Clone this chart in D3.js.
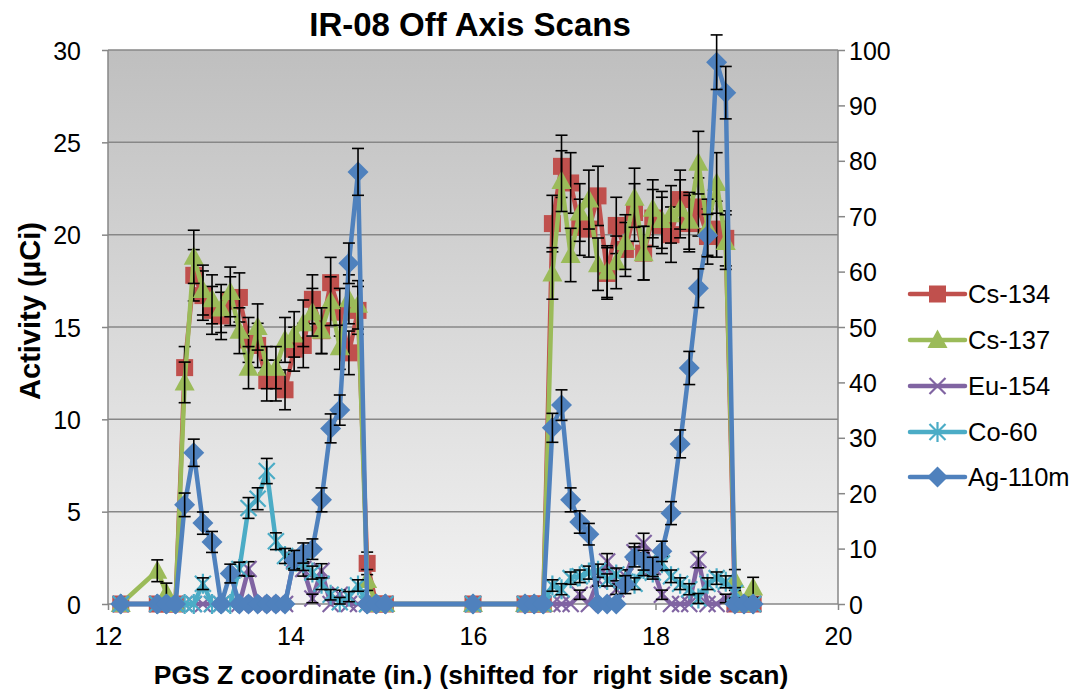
<!DOCTYPE html>
<html lang="en">
<head>
<meta charset="UTF-8">
<title>IR-08 Off Axis Scans</title>
<script src="https://d3js.org/d3.v7.min.js"></script>
<style>
  body { margin: 0; background: #fff; font-family: "Liberation Sans", Arial, sans-serif; }
  .tick text { font-size: 25px; fill: #000; font-family: "Liberation Sans", Arial, sans-serif; }
  .tick line { stroke: #878787; stroke-width: 1.5px; }
  .grid { stroke: #878787; stroke-width: 1.5px; }
  .title { font-size: 33px; font-weight: bold; text-anchor: middle; }
  .axis-title { font-size: 26.5px; font-weight: bold; text-anchor: middle; }
  .legend text { font-size: 25.5px; }
  .err { stroke: #000; stroke-width: 1.6px; }
</style>
</head>
<body>
<script>
// x positions of scan points (in.)
const positions = [12.14,
  12.54, 12.64, 12.74, 12.84, 12.94, 13.04, 13.14, 13.24, 13.34, 13.44,
  13.54, 13.64, 13.74, 13.84, 13.94, 14.04, 14.14, 14.24, 14.34, 14.44,
  14.54, 14.64, 14.74, 14.84, 14.94, 15.04,
  16.0,
  16.57, 16.67, 16.77, 16.87, 16.97, 17.07, 17.17, 17.27, 17.37, 17.47,
  17.57, 17.67, 17.77, 17.87, 17.97, 18.07, 18.17, 18.27, 18.37, 18.47,
  18.57, 18.67, 18.77, 18.87, 18.97, 19.07];

// left axis (µCi)
const cs134 = [0,
  0, 0, 0, 12.8, 17.8, 16.7, 15.9, 15.6, 16.4, 16.6,
  14.3, 14.0, 12.1, 12.1, 11.6, 13.8, 14.0, 16.5, 14.8, 17.4,
  15.8, 13.6, 15.9, 2.2, 0, 0,
  0,
  0, 0, 0, 20.6, 23.7, 22.8, 20.4, 20.3, 22.1, 17.9,
  20.5, 19.2, 21.2, 19.0, 20.9, 20.5, 20.0, 21.9, 20.6, 21.5,
  19.9, 20.3, 19.8, 0, 0, 0];
const cs137 = [0,
  1.8, 0.6, 0, 12.0, 18.8, 17.0, 16.5, 16.0, 16.9, 14.8,
  12.8, 15.0, 12.8, 12.8, 14.3, 14.6, 15.2, 15.8, 14.8, 16.4,
  13.9, 16.5, 16.2, 1.3, 0, 0,
  0,
  0, 0, 0, 17.9, 22.9, 18.9, 21.2, 21.9, 18.4, 18.0,
  18.5, 19.6, 22.0, 19.0, 21.4, 20.8, 21.1, 21.4, 20.75, 23.9,
  20.4, 22.8, 19.6, 1.3, 0, 0.9];
const eu154 = [0,
  0, 0, 0, 0, 0, 0, 0, 0, 0, 0,
  1.9, 0, 0, 0, 0, 2.4, 1.9, 0.3, 1.8, 0,
  0.5, 0, 0, 0, 0, 0,
  0,
  0, 0, 0, 0, 0, 0, 0.5, 0, 1.3, 2.3,
  0.8, 1.5, 2.8, 3.3, 2.0, 0.5, 0, 0, 0, 2.4,
  0, 0, 0.3, 0, 0, 0];
const co60 = [0,
  0, 0, 0, 0, 0, 1.1, 0, 0, 0, 1.9,
  5.2, 5.7, 7.2, 3.4, 2.6, 2.3, 2.2, 1.7, 1.1, 0.5,
  0.1, 0.4, 1.0, 0, 0, 0,
  0,
  0, 0, 0, 1.0, 0.8, 1.4, 1.5, 1.7, 1.8, 1.3,
  1.6, 1.2, 1.1, 1.9, 1.7, 2.2, 1.5, 1.1, 0.8, 0.3,
  1.1, 1.4, 1.2, 0.6, 0, 0];
// right axis
const ag110m = [0,
  0, 0, 0, 17.9, 27.3, 14.6, 11.2, 0, 5.5, 0,
  0, 0, 0, 0, 0, 7.9, 9.2, 9.9, 18.8, 31.7,
  35.0, 61.5, 78.0, 0, 0, 0,
  0,
  0, 0, 0, 31.8, 35.9, 18.8, 14.8, 12.6, 0, 0,
  0, 3.5, 8.5, 7.9, 6.7, 9.5, 16.4, 28.9, 42.6, 57.0,
  66.5, 97.8, 92.3, 0, 0, 0];

// uncertainty used for the error bars: relative part + fixed part
const errFrac = { "Cs-134": 0.05, "Cs-137": 0.05, "Eu-154": 0.1, "Co-60": 0.06, "Ag-110m": 0.035 };
const errBase = { "Cs-134": 0.5, "Cs-137": 0.5, "Eu-154": 0.2, "Co-60": 0.25, "Ag-110m": 1.5 };

const xTicks = [12, 14, 16, 18, 20];
const leftTicks = [0, 5, 10, 15, 20, 25, 30];
const rightTicks = [0, 10, 20, 30, 40, 50, 60, 70, 80, 90, 100];

const width = 1081, height = 689;
const plotL = 108, plotR = 838, plotT = 50, plotB = 604;

const svg = d3.select("body").append("svg")
  .attr("width", width)
  .attr("height", height);

const x = d3.scaleLinear().domain([12, 20]).range([plotL, plotR]);
const yL = d3.scaleLinear().domain([0, 30]).range([plotB, plotT]);
const yR = d3.scaleLinear().domain([0, 100]).range([plotB, plotT]);

// plot background gradient
const defs = svg.append("defs");
const grad = defs.append("linearGradient")
  .attr("id", "bg").attr("x1", 0).attr("y1", 0).attr("x2", 0).attr("y2", 1);
grad.append("stop").attr("offset", "0%").attr("stop-color", "#bfbfbf");
grad.append("stop").attr("offset", "100%").attr("stop-color", "#f2f2f2");

svg.append("rect")
  .attr("x", plotL).attr("y", plotT)
  .attr("width", plotR - plotL).attr("height", plotB - plotT)
  .attr("fill", "url(#bg)");

// gridlines
svg.selectAll(".grid")
  .data(leftTicks)
  .enter().append("line")
  .attr("class", "grid")
  .attr("x1", plotL).attr("x2", plotR)
  .attr("y1", d => yL(d)).attr("y2", d => yL(d));

// plot borders (left and right axis lines)
svg.append("line").attr("class", "grid").attr("x1", plotL).attr("x2", plotL).attr("y1", plotT).attr("y2", plotB);
svg.append("line").attr("class", "grid").attr("x1", plotR).attr("x2", plotR).attr("y1", plotT).attr("y2", plotB);

// axes
const axL = svg.append("g")
  .attr("transform", `translate(${plotL},0)`)
  .call(d3.axisLeft(yL).tickValues(leftTicks).tickSize(6).tickPadding(21));
const axR = svg.append("g")
  .attr("transform", `translate(${plotR},0)`)
  .call(d3.axisRight(yR).tickValues(rightTicks).tickSize(7).tickPadding(4));
const axX = svg.append("g")
  .attr("transform", `translate(0,${plotB})`)
  .call(d3.axisBottom(x).tickValues(xTicks).tickSize(6).tickPadding(17));
[axL, axR, axX].forEach(g => g.select(".domain").remove());
axL.selectAll("text").attr("dy", "0.36em");
axR.selectAll("text").attr("dy", "0.36em");

// series
const series = [
  { name: "Cs-134", values: cs134, color: "#c0504d", y: yL, marker: "square" },
  { name: "Cs-137", values: cs137, color: "#9bbb59", y: yL, marker: "triangle" },
  { name: "Eu-154", values: eu154, color: "#8064a2", y: yL, marker: "x" },
  { name: "Co-60", values: co60, color: "#4bacc6", y: yL, marker: "star" },
  { name: "Ag-110m", values: ag110m, color: "#4f81bd", y: yR, marker: "diamond" }
];

function drawMarker(sel, type, color) {
  if (type === "square") {
    sel.append("rect").attr("x", -8.5).attr("y", -8.5).attr("width", 17).attr("height", 17)
      .attr("fill", color);
  } else if (type === "triangle") {
    sel.append("path").attr("d", "M0,-10.5L10,8L-10,8Z").attr("fill", color);
  } else if (type === "diamond") {
    sel.append("path").attr("d", "M0,-10.5L10.5,0L0,10.5L-10.5,0Z").attr("fill", color);
  } else if (type === "x") {
    sel.append("path").attr("d", "M-8,-8L8,8M-8,8L8,-8")
      .attr("stroke", color).attr("stroke-width", 2.2).attr("fill", "none");
  } else if (type === "star") {
    sel.append("path").attr("d", "M-8,-8L8,8M-8,8L8,-8M0,-10L0,10")
      .attr("stroke", color).attr("stroke-width", 2.2).attr("fill", "none");
  }
}

series.forEach(s => {
  const pts = positions.map((p, i) => ({ x: p, v: s.values[i] }));
  const g = svg.append("g").attr("class", "series");

  const line = d3.line().x(d => x(d.x)).y(d => s.y(d.v));
  g.append("path")
    .datum(pts)
    .attr("d", line)
    .attr("fill", "none")
    .attr("stroke", s.color)
    .attr("stroke-width", 4.5)
    .attr("stroke-linejoin", "round");

  g.selectAll(".m")
    .data(pts)
    .enter().append("g")
    .attr("transform", d => `translate(${x(d.x)},${s.y(d.v)})`)
    .each(function () { drawMarker(d3.select(this), s.marker, s.color); });

  // error bars
  const eb = g.selectAll(".eb")
    .data(pts.filter(d => d.v > 0))
    .enter().append("g");
  const err = d => d.v * errFrac[s.name] + errBase[s.name];
  const hi = d => s.y(d.v + err(d));
  const lo = d => s.y(Math.max(0, d.v - err(d)));
  eb.append("line").attr("class", "err")
    .attr("x1", d => x(d.x)).attr("x2", d => x(d.x))
    .attr("y1", hi).attr("y2", lo);
  eb.append("line").attr("class", "err")
    .attr("x1", d => x(d.x) - 6).attr("x2", d => x(d.x) + 6)
    .attr("y1", hi).attr("y2", hi);
  eb.append("line").attr("class", "err")
    .attr("x1", d => x(d.x) - 6).attr("x2", d => x(d.x) + 6)
    .attr("y1", lo).attr("y2", lo);
});

// legend
const legendY = [294, 340, 386, 432, 477];
const legend = svg.append("g").attr("class", "legend");
series.forEach((s, i) => {
  const row = legend.append("g").attr("transform", `translate(910,${legendY[i]})`);
  row.append("line").attr("x1", 0).attr("x2", 55).attr("y1", 0).attr("y2", 0)
    .attr("stroke", s.color).attr("stroke-width", 4.5).attr("stroke-linecap", "round");
  drawMarker(row.append("g").attr("transform", "translate(27.5,0)"), s.marker, s.color);
  row.append("text").attr("x", 58).attr("y", 0).attr("dy", "0.36em").text(s.name);
});

// titles
svg.append("text").attr("class", "title").attr("x", 470).attr("y", 36).text("IR-08 Off Axis Scans");
svg.append("text").attr("class", "axis-title").attr("x", 471).attr("y", 684)
  .style("white-space", "pre")
  .text("PGS Z coordinate (in.) (shifted for  right side scan)");
svg.append("text").attr("class", "axis-title")
  .style("font-size", "29px")
  .attr("transform", "translate(40,311) rotate(-90)")
  .text("Activity (µCi)");
</script>
</body>
</html>
